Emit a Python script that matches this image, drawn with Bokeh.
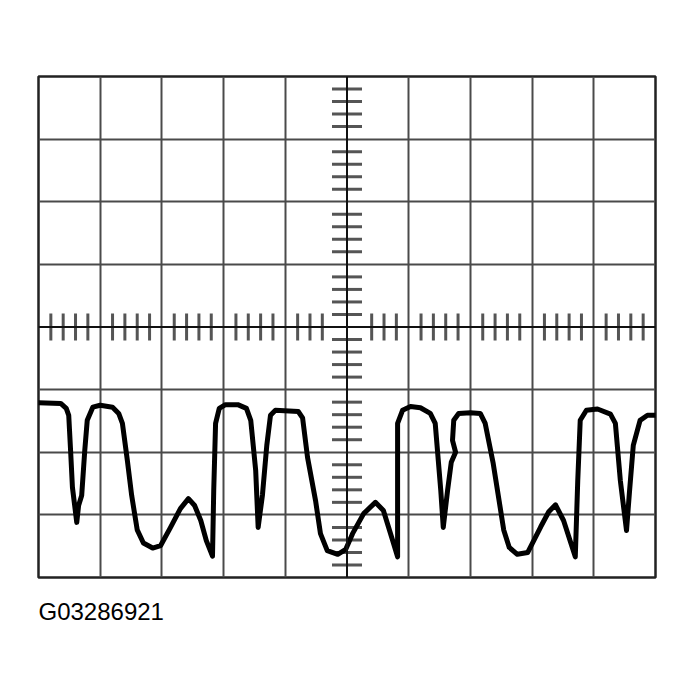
from bokeh.plotting import figure
from bokeh.models import Range1d, FixedTicker, Span, Title
from bokeh.embed import file_html
from bokeh.resources import INLINE

# Oscilloscope screen: 10 horizontal x 8 vertical divisions, centre at (5, 0)
x_divs = list(range(0, 11))
y_divs = list(range(-4, 5))

# Waveform trace (x in divisions, y in divisions relative to centre line)
wave_x = [0.00, 0.36, 0.45, 0.49, 0.52, 0.55, 0.62, 0.65, 0.70, 0.75, 0.79, 0.88,
          1.00, 1.20, 1.30, 1.36, 1.44, 1.51, 1.60, 1.70, 1.85, 1.98, 2.14, 2.30,
          2.43, 2.53, 2.63, 2.72, 2.82, 2.84, 2.87, 2.93, 3.03, 3.23, 3.37, 3.44,
          3.52, 3.56, 3.63, 3.70, 3.76, 3.84, 4.21, 4.28, 4.36, 4.49, 4.57, 4.68,
          4.85, 4.98, 5.09, 5.27, 5.46, 5.59, 5.74, 5.82, 5.82, 5.82, 5.90, 6.03,
          6.19, 6.35, 6.43, 6.52, 6.56, 6.63, 6.69, 6.76, 6.71, 6.73, 6.81, 7.00,
          7.16, 7.24, 7.37, 7.54, 7.63, 7.76, 7.93, 8.14, 8.27, 8.38, 8.51, 8.70,
          8.74, 8.78, 8.88, 9.06, 9.27, 9.35, 9.43, 9.53, 9.58, 9.64, 9.75, 9.87,
          10.00]
wave_y = [-1.21, -1.22, -1.30, -1.41, -1.97, -2.56, -3.12, -2.85, -2.69, -1.97, -1.49, -1.28,
          -1.25, -1.28, -1.38, -1.54, -2.13, -2.69, -3.24, -3.45, -3.53, -3.49, -3.20, -2.90,
          -2.74, -2.85, -3.09, -3.41, -3.66, -2.61, -1.54, -1.30, -1.24, -1.24, -1.30, -1.49,
          -2.29, -3.20, -2.68, -1.89, -1.41, -1.33, -1.35, -1.45, -2.08, -2.77, -3.30, -3.57,
          -3.63, -3.55, -3.30, -2.98, -2.80, -2.93, -3.41, -3.67, -2.61, -1.54, -1.33, -1.27,
          -1.29, -1.38, -1.54, -2.61, -3.20, -2.61, -2.16, -2.00, -1.81, -1.49, -1.38, -1.37,
          -1.38, -1.54, -2.18, -3.24, -3.52, -3.63, -3.60, -3.19, -2.95, -2.84, -3.09, -3.67,
          -2.45, -1.49, -1.33, -1.31, -1.39, -1.54, -2.45, -3.25, -2.61, -1.89, -1.49, -1.41,
          -1.41]

# Minor graticule marks: 4 per division along the centre lines
minor_x = [i + k / 5 for i in range(0, 10) for k in range(1, 5)
           if abs(i + k / 5 - 5) > 0.3]
minor_y = [j + k / 5 for j in range(-4, 4) for k in range(1, 5)]

caption = "G03286921"

p = figure(width=680, height=682, output_backend="svg", toolbar_location=None,
           x_range=Range1d(0, 10), y_range=Range1d(-4, 4),
           min_border_left=38, min_border_right=25, min_border_top=76,
           min_border_bottom=105)
p.axis.visible = False
p.background_fill_color = "white"
p.border_fill_color = "white"
p.outline_line_color = "#222222"
p.outline_line_width = 2.5

p.xgrid.ticker = FixedTicker(ticks=[v for v in x_divs if v not in (0, 5, 10)])
p.ygrid.ticker = FixedTicker(ticks=[v for v in y_divs if v not in (-4, 0, 4)])
for g in (p.xgrid, p.ygrid):
    g.grid_line_color = "#4a4a4a"
    g.grid_line_width = 2
    g.grid_line_alpha = 1.0

# centre axes
p.add_layout(Span(location=5, dimension="height", line_color="#111111", line_width=2))
p.add_layout(Span(location=0, dimension="width", line_color="#111111", line_width=2))

# minor ticks on centre lines
p.scatter(x=[5] * len(minor_y), y=minor_y, marker="dash", size=30,
          line_color="#555555", line_width=3)
p.scatter(x=minor_x, y=[0] * len(minor_x), marker="dash", size=27, angle=1.5708,
          line_color="#555555", line_width=3)

# waveform
p.line(wave_x, wave_y, line_color="black", line_width=5, line_join="round",
       line_cap="round")

p.add_layout(Title(text=caption, align="left", text_font="Liberation Sans",
                   text_font_size="24px", text_font_style="normal",
                   text_color="black", standoff=36, offset=0), "below")

open("out.html", "w").write(file_html(p, INLINE))
